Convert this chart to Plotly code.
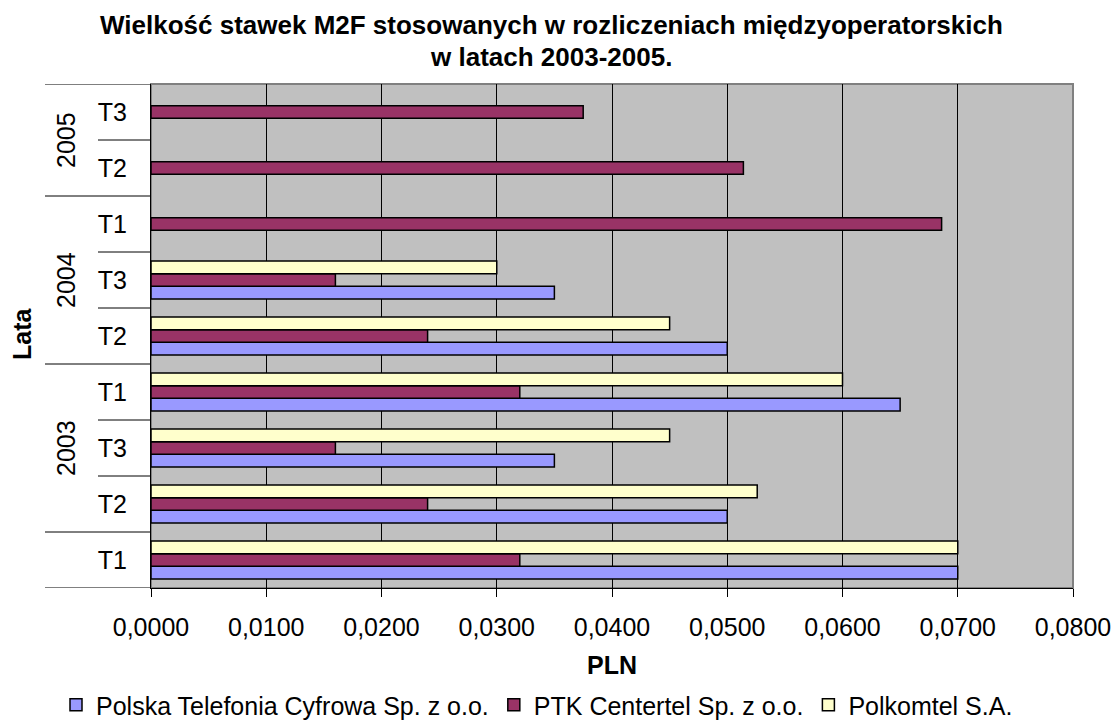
import plotly.graph_objects as go

# ---- data ----
periods = ["T1", "T2", "T3", "T1", "T2", "T3", "T1", "T2", "T3"]
years = ["", "2003", "2003", "2003", "2004", "2004", "2004", "2005", "2005"]
series_names = ["Polska Telefonia Cyfrowa Sp. z o.o.", "PTK Centertel Sp. z o.o.", "Polkomtel S.A."]
ptc = [0.0700, 0.0500, 0.0350, 0.0650, 0.0500, 0.0350, None, None, None]
ptk = [0.0320, 0.0240, 0.0160, 0.0320, 0.0240, 0.0160, 0.0686, 0.0514, 0.0375]
polkomtel = [0.0700, 0.0526, 0.0450, 0.0600, 0.0450, 0.0300, None, None, None]
x_ticks = [0.00, 0.01, 0.02, 0.03, 0.04, 0.05, 0.06, 0.07, 0.08]

title_line1 = "Wielkość stawek M2F stosowanych w rozliczeniach międzyoperatorskich"
title_line2 = "w latach 2003-2005."
x_title = "PLN"
y_title = "Lata"

colors = ["#9999FF", "#993366", "#FFFFCC"]
FONT = "Liberation Sans, Arial, sans-serif"
FS = 25

# ---- layout geometry (pixels) ----
# the page body adds an 8px offset; margins are set so that the plot area
# lands at screen x 151..1073, y 84..588
OFF = 8
W, H = 1120, 720
L = 151 - OFF
T = 84 - OFF
R = W - (1073 - OFF)
B = H - (588 - OFF)
PW = W - L - R
PH = H - T - B


def px_x(px):
    return (px - OFF - L) / PW


def px_y(py):
    return (H - B - (py - OFF)) / PH


pos = list(range(len(periods)))

fig = go.Figure()
for name, vals, col in zip(series_names, [ptc, ptk, polkomtel], colors):
    fig.add_trace(go.Bar(
        y=pos, x=vals, name=name, orientation="h",
        marker=dict(color=col, line=dict(color="#000000", width=1.5)),
    ))

shapes = []
# plot area border
shapes.append(dict(type="rect", xref="paper", yref="paper", x0=0, x1=1, y0=0, y1=1,
                   line=dict(color="#808080", width=2), layer="below"))
# category separators (short) and year separators (long)
n = len(periods)
for k in range(n + 1):
    yb = k - 0.5
    long_line = k == 0 or k == n or years[k] != years[k - 1]
    x0 = px_x(45) if long_line else px_x(98)
    shapes.append(dict(type="line", xref="paper", yref="y", x0=x0, x1=0, y0=yb, y1=yb,
                       line=dict(color="#000000", width=1)))

annotations = []
# year group labels
k = 0
while k < n:
    j = k
    while j + 1 < n and years[j + 1] == years[k]:
        j += 1
    if years[k]:
        annotations.append(dict(text=years[k], xref="paper", yref="y", x=px_x(66),
                                y=(pos[k] + pos[j]) / 2, textangle=-90, showarrow=False,
                                font=dict(size=FS, family=FONT, color="#000000"),
                                xanchor="center", yanchor="middle"))
    k = j + 1

# titles
annotations.append(dict(text="<b>" + title_line1 + "</b>", xref="paper", yref="paper",
                        x=px_x(551), y=px_y(25), showarrow=False, xanchor="center", yanchor="middle",
                        font=dict(size=26, family=FONT, color="#000000")))
annotations.append(dict(text="<b>" + title_line2 + "</b>", xref="paper", yref="paper",
                        x=px_x(551), y=px_y(57), showarrow=False, xanchor="center", yanchor="middle",
                        font=dict(size=26, family=FONT, color="#000000")))
annotations.append(dict(text="<b>" + y_title + "</b>", xref="paper", yref="paper",
                        x=px_x(22), y=px_y(334), showarrow=False, textangle=-90,
                        xanchor="center", yanchor="middle",
                        font=dict(size=FS, family=FONT, color="#000000")))
annotations.append(dict(text="<b>" + x_title + "</b>", xref="paper", yref="paper",
                        x=0.5, y=px_y(665), showarrow=False, xanchor="center", yanchor="middle",
                        font=dict(size=FS, family=FONT, color="#000000")))

fig.update_layout(
    width=W, height=H,
    margin=dict(l=L, r=R, t=T, b=B, pad=0, autoexpand=False),
    paper_bgcolor="#FFFFFF", plot_bgcolor="#C0C0C0",
    barmode="group", bargap=0.32, bargroupgap=0,
    separators=", ",
    font=dict(family=FONT, size=FS, color="#000000"),
    showlegend=True,
    legend=dict(orientation="h", x=px_x(56), xanchor="left", y=px_y(705), yanchor="middle",
                font=dict(size=FS, family=FONT, color="#000000"), bgcolor="rgba(0,0,0,0)",
                itemclick=False, tracegroupgap=0),
    shapes=shapes, annotations=annotations,
)
fig.update_xaxes(range=[0, 0.08], tickvals=x_ticks, tickformat=".4f",
                 showgrid=True, gridcolor="#000000", gridwidth=1,
                 zeroline=False, showline=True, linecolor="#000000", linewidth=1,
                 ticks="outside", ticklen=8, tickcolor="#000000", tickwidth=1,
                 ticklabelstandoff=9, tickfont=dict(size=FS, family=FONT, color="#000000"))
fig.update_yaxes(range=[-0.5, n - 0.5], tickvals=pos, ticktext=periods,
                 showgrid=False, zeroline=False, showline=True, linecolor="#000000", linewidth=1,
                 ticks="", ticklabelstandoff=18, tickfont=dict(size=FS, family=FONT, color="#000000"))

fig.write_html("out.html")
